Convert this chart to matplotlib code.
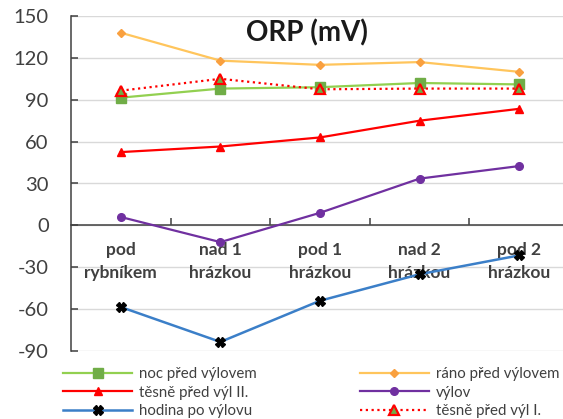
import matplotlib
matplotlib.use("Agg")
import matplotlib.pyplot as plt
from matplotlib.ticker import FixedLocator, NullFormatter

plt.rcParams['font.family'] = ['Lato', 'DejaVu Sans']
plt.rcParams['axes.unicode_minus'] = False

categories = [("pod", "rybníkem"), ("nad 1", "hrázkou"), ("pod 1", "hrázkou"),
              ("nad 2", "hrázkou"), ("pod 2", "hrázkou")]

noc_pred_vylovem = [91.5, 98, 99, 102, 101]
rano_pred_vylovem = [138, 118, 115, 117, 110]
tesne_pred_vyl_II = [52.5, 56.5, 63, 75, 83.5]
vylov = [6, -12, 9, 33.5, 42.5]
hodina_po_vylovu = [-58.5, -83.5, -54, -35, -21.5]
tesne_pred_vyl_I = [96.5, 105, 97.5, 98, 98]

y_ticks = [-90, -60, -30, 0, 30, 60, 90, 120, 150]

W, H = 563, 419
fig = plt.figure(figsize=(W / 100, H / 100), dpi=100)
ax = fig.add_axes([71 / W, 1 - 351 / H, (569 - 71) / W, (351 - 16) / H])

x = list(range(len(categories)))

h_noc, = ax.plot(x, noc_pred_vylovem, color='#92d050', lw=1.6, marker='s', ms=7,
                 mfc='#70ad47', mec='#70ad47', label='noc před výlovem', zorder=4)
h_rano, = ax.plot(x, rano_pred_vylovem, color='#ffc55c', lw=1.6, marker='D', ms=4.5,
                  mfc='#f9a03f', mec='#f9a03f', label='ráno před výlovem', zorder=4)
h_t2, = ax.plot(x, tesne_pred_vyl_II, color='#ff0000', lw=1.6, marker='^', ms=5.5,
                mfc='#ff0000', mec='#ff0000', label='těsně před výl II.', zorder=4)
h_vyl, = ax.plot(x, vylov, color='#7030a0', lw=1.6, marker='o', ms=5.5,
                 mfc='#7030a0', mec='#7030a0', label='výlov', zorder=4)
h_hod, = ax.plot(x, hodina_po_vylovu, color='#3b7fc8', lw=1.8, marker='X', ms=6.5,
                 mfc='black', mec='black', label='hodina po výlovu', zorder=4)
h_t1, = ax.plot(x, tesne_pred_vyl_I, color='#ff0000', lw=1.6, ls=(0, (1, 1.6)),
                marker='^', ms=7, mfc='#70ad47', mec='#ff0000', mew=1.6,
                label='těsně před výl I.', zorder=5)

ax.set_xlim(-0.5, len(categories) - 0.5)
ax.set_ylim(min(y_ticks), max(y_ticks))
ax.yaxis.set_major_locator(FixedLocator(y_ticks))
ax.grid(axis='y', color='#d9d9d9', lw=1)
ax.set_axisbelow(True)

for side in ('top', 'right'):
    ax.spines[side].set_visible(False)
ax.spines['bottom'].set_position(('data', 0))
ax.spines['bottom'].set_color('#404040')
ax.spines['bottom'].set_linewidth(1.1)
ax.spines['left'].set_color('#404040')
ax.spines['left'].set_linewidth(1.1)

ax.xaxis.set_major_locator(FixedLocator([i + 0.5 for i in range(len(categories) - 1)]))
ax.xaxis.set_major_formatter(NullFormatter())
ax.tick_params(axis='x', direction='in', length=5, width=1.1, color='#404040')
ax.tick_params(axis='y', direction='in', length=5, width=1.1, color='#404040',
               labelsize=14.5, labelcolor='#404040', pad=16)

for i, (top, bottom) in enumerate(categories):
    ax.text(i, -17.9, top, ha='center', va='center', fontsize=12.5,
            fontweight='bold', color='#404040')
    ax.text(i, -33.8, bottom, ha='center', va='center', fontsize=12.5,
            fontweight='bold', color='#404040')

ax.text(307 / W, 1 - 33 / H, "ORP (mV)", transform=fig.transFigure,
        ha='center', va='center', fontsize=20, fontweight='bold', color='#1a1a1a')

handles = [h_noc, h_t2, h_hod, h_rano, h_vyl, h_t1]
fig.legend(handles=handles, labels=[h.get_label() for h in handles],
           loc='upper left', bbox_to_anchor=(63 / W, 1 - 367 / H), ncol=2,
           frameon=False, fontsize=10.8, handlelength=4.6, handletextpad=0.47,
           columnspacing=6.85, labelspacing=0.3, borderpad=0, borderaxespad=0,
           labelcolor='#404040')

fig.savefig("out.png", dpi=100)
